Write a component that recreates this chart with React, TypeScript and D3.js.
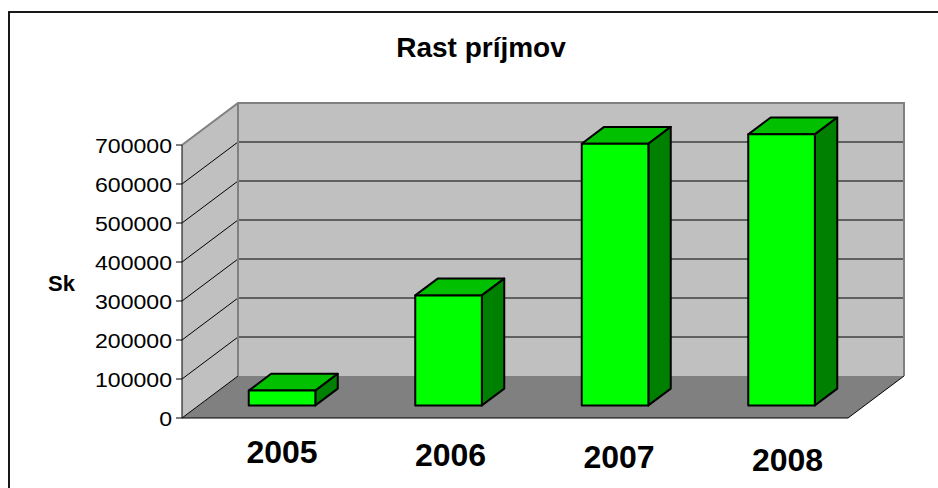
import React from 'react';
import * as d3 from 'd3';

const years = ['2005', '2006', '2007', '2008'];
const income = [38000, 282000, 671000, 695000];
const yTicks = [0, 100000, 200000, 300000, 400000, 500000, 600000, 700000];
const title = 'Rast príjmov';
const yTitle = 'Sk';

const W = 938;
const H = 488;
const left = 182;
const right = 848;
const bottom = 418;
const top = 145;
// oblique depth of the plot box
const DX = 56;
const DY = 42;
const barFront = 0.3;
const barDepth = 0.4;

const colors = {
  wall: '#c0c0c0',
  floor: '#808080',
  edge: '#808080',
  front: '#00ff00',
  roof: '#00c000',
  side: '#008000',
};

const font = 'Arial, "Liberation Sans", sans-serif';

const App: React.FC = () => {
  const x = d3.scaleBand<string>().domain(years).range([left, right]).paddingInner(0.6).paddingOuter(0.3);
  const y = d3.scaleLinear().domain([0, 700000]).range([bottom, top]);
  const yTop = y(700000);

  const fdx = DX * barFront;
  const fdy = DY * barFront;
  const bdx = DX * barDepth;
  const bdy = DY * barDepth;

  const pts = (p: number[][]) => p.map((d) => d.join(',')).join(' ');

  return (
    <svg width={W} height={H} style={{ position: 'absolute', left: 0, top: 0 }} fontFamily={font}>
      <rect x={0} y={0} width={W} height={H} fill="#fff" />
      <rect x={9} y={12} width={W + 20} height={H + 20} fill="none" stroke="#000" strokeWidth={1.8} />

      <text x={481} y={57} textAnchor="middle" fontSize={28} fontWeight="bold">{title}</text>

      {/* walls */}
      <polygon points={pts([[left, yTop], [left + DX, yTop - DY], [left + DX, bottom - DY], [left, bottom]])} fill={colors.wall} />
      <rect x={left + DX} y={yTop - DY} width={right - left} height={bottom - yTop} fill={colors.wall} />
      <polygon points={pts([[left, bottom], [right, bottom], [right + DX, bottom - DY], [left + DX, bottom - DY]])} fill={colors.floor} />

      {/* gridlines */}
      {yTicks.slice(1, -1).map((v) => (
        <g key={v}>
          <line x1={left} y1={y(v)} x2={left + DX} y2={y(v) - DY} stroke="#000" strokeWidth={1} />
          <line x1={left + DX} y1={y(v) - DY} x2={right + DX} y2={y(v) - DY} stroke="#000" strokeWidth={1} />
        </g>
      ))}

      {/* wall edges */}
      <polyline points={pts([[left, yTop], [left + DX, yTop - DY], [right + DX, yTop - DY], [right + DX, bottom - DY]])} fill="none" stroke={colors.edge} strokeWidth={2} />
      <line x1={left + DX} y1={yTop - DY} x2={left + DX} y2={bottom - DY} stroke={colors.edge} strokeWidth={2} />
      <line x1={right} y1={bottom} x2={right + DX} y2={bottom - DY} stroke="#000" strokeWidth={1} />
      <line x1={left} y1={bottom} x2={left + DX} y2={bottom - DY} stroke="#000" strokeWidth={1} />
      <line x1={left} y1={bottom} x2={right} y2={bottom} stroke="#000" strokeWidth={1} />
      <line x1={left} y1={yTop} x2={left} y2={bottom} stroke="#000" strokeWidth={1} />

      {/* y axis */}
      {yTicks.map((v) => (
        <g key={v}>
          <line x1={left - 6} y1={y(v)} x2={left} y2={y(v)} stroke="#000" strokeWidth={1} />
          <text transform={`translate(${left - 10},${y(v)}) scale(1.1,1)`} dy="0.36em" textAnchor="end" fontSize={21}>{v}</text>
        </g>
      ))}
      <text x={48} y={291} fontSize={22} fontWeight="bold">{yTitle}</text>

      {/* bars */}
      {years.map((yr, i) => {
        const x0 = (x(yr) as number) + fdx;
        const x1 = x0 + x.bandwidth();
        const yb = y(0) - fdy;
        const yt = y(income[i]) - fdy;
        return (
          <g key={yr} stroke="#000" strokeWidth={2} strokeLinejoin="round">
            <polygon points={pts([[x0, yt], [x0 + bdx, yt - bdy], [x1 + bdx, yt - bdy], [x1, yt]])} fill={colors.roof} />
            <polygon points={pts([[x1, yt], [x1 + bdx, yt - bdy], [x1 + bdx, yb - bdy], [x1, yb]])} fill={colors.side} />
            <rect x={x0} y={yt} width={x.bandwidth()} height={yb - yt} fill={colors.front} />
          </g>
        );
      })}

      {/* category labels */}
      {years.map((yr, i) => (
        <text key={yr} x={(x(yr) as number) + fdx + x.bandwidth() / 2 + i * 2} y={463 + i * 2.5} textAnchor="middle" fontSize={32} fontWeight="bold">{yr}</text>
      ))}
    </svg>
  );
};

export default App;
